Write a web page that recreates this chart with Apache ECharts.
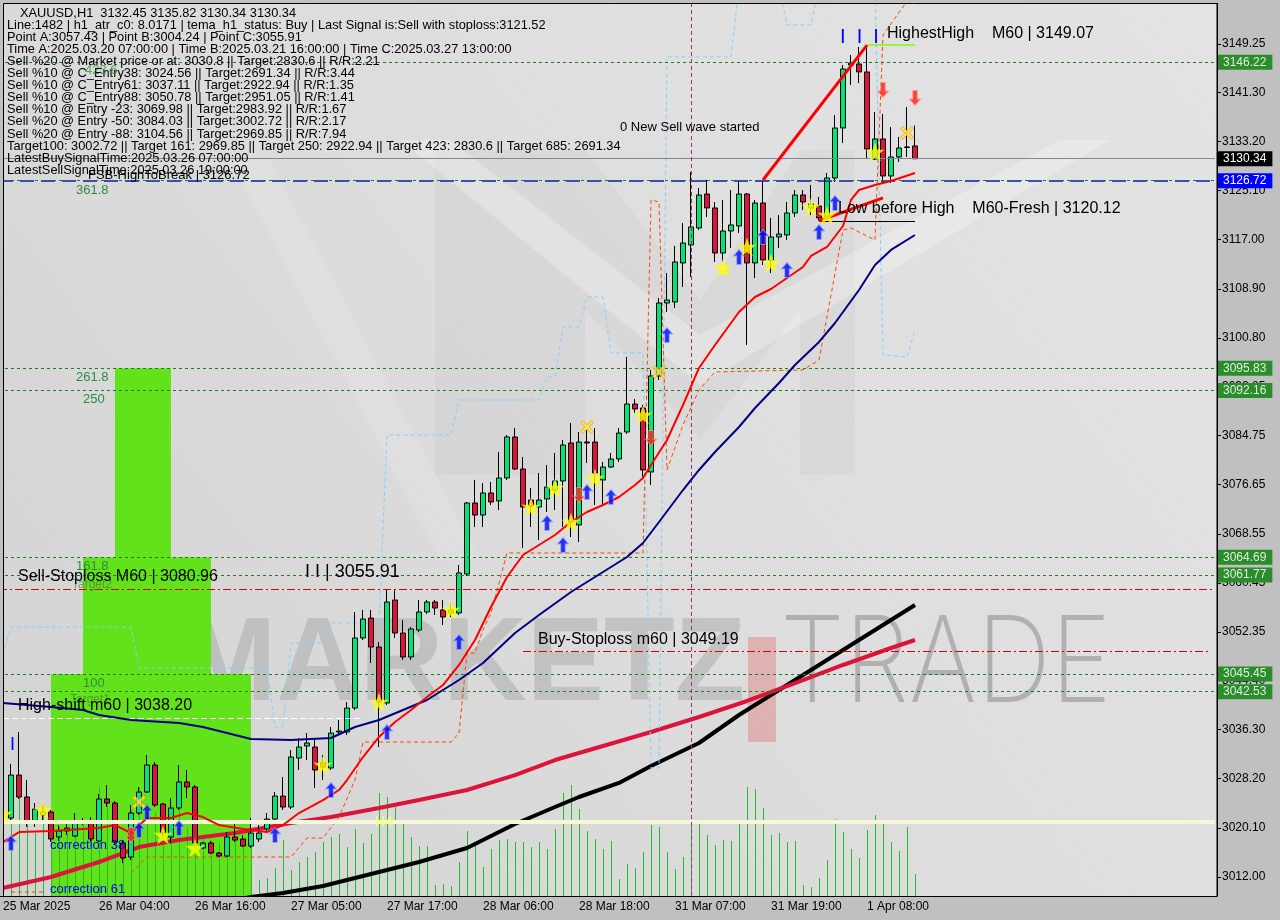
<!DOCTYPE html>
<html><head><meta charset="utf-8">
<script src="https://cdn.jsdelivr.net/npm/echarts@6/dist/echarts.min.js"></script>
<style>html,body{margin:0;padding:0;background:#c0c0c0}#c{width:1280px;height:920px}</style>
</head><body><div id="c"></div>
<script>
// ---------------- DATA ----------------
// bar k = 0..113 (H1 bars). Category index = k + 1 (index 0 is the partly hidden bar at the left edge)
const open  = [3021.72,3028.80,3025.18,3021.06,3022.21,3022.71,3018.59,3019.58,3018.75,3021.06,3021.06,3017.93,3024.85,3024.19,3017.60,3015.29,3022.54,3026.00,3030.45,3024.03,3018.59,3023.37,3027.65,3026.83,3016.78,3017.60,3015.95,3015.46,3018.59,3018.26,3017.10,3018.26,3019.90,3021.55,3025.34,3023.53,3031.60,3033.58,3033.42,3030.78,3029.96,3035.89,3035.89,3039.84,3051.38,3054.67,3049.89,3040.67,3057.64,3052.20,3048.25,3052.70,3055.66,3057.31,3055.99,3055.50,3055.50,3061.92,3073.62,3071.64,3075.27,3073.95,3077.74,3084.50,3079.22,3074.11,3072.96,3074.28,3075.76,3077.25,3083.51,3070.00,3083.67,3083.67,3077.41,3079.55,3080.87,3085.32,3089.93,3089.27,3078.73,3094.55,3106.57,3106.74,3113.17,3116.13,3118.93,3124.53,3122.23,3114.81,3118.44,3119.26,3124.53,3113.17,3123.05,3113.66,3117.45,3117.78,3121.40,3124.37,3122.23,3122.56,3120.58,3127.17,3135.41,3145.79,3145.95,3144.64,3130.30,3133.60,3127.50,3130.63,3132.28,3132.45];
const high  = [3030.62,3035.89,3027.98,3024.19,3023.86,3023.04,3020.56,3020.73,3022.54,3021.72,3021.88,3025.67,3027.16,3024.52,3018.09,3023.86,3026.83,3032.10,3030.95,3024.19,3025.01,3030.45,3029.63,3027.16,3017.76,3017.93,3016.12,3019.41,3020.89,3018.92,3021.72,3020.56,3022.54,3026.00,3028.47,3032.92,3034.90,3035.72,3034.90,3032.10,3036.71,3037.87,3040.83,3055.66,3055.99,3055.99,3050.72,3059.45,3059.29,3054.34,3053.19,3057.64,3057.64,3057.64,3057.64,3057.14,3063.40,3073.79,3077.41,3076.92,3077.08,3082.02,3084.83,3085.98,3081.20,3076.09,3078.56,3079.88,3081.86,3084.00,3086.80,3085.32,3085.65,3085.98,3080.38,3081.86,3085.98,3097.68,3090.76,3089.77,3095.54,3107.40,3111.52,3115.97,3119.76,3128.16,3125.52,3126.84,3123.22,3123.55,3125.19,3126.84,3124.70,3123.55,3126.84,3120.58,3121.07,3123.22,3125.19,3125.19,3126.02,3124.04,3127.99,3137.55,3145.79,3147.44,3148.76,3149.07,3138.05,3137.72,3135.57,3133.93,3138.87,3135.82];
const low   = [3021.06,3024.85,3020.24,3020.24,3021.06,3017.76,3017.93,3018.92,3018.59,3020.56,3017.76,3017.76,3023.53,3017.27,3014.30,3014.80,3022.21,3025.84,3023.53,3018.59,3017.60,3023.04,3025.01,3016.94,3016.61,3015.79,3015.29,3015.29,3017.76,3016.94,3016.78,3017.76,3019.25,3021.06,3023.04,3023.20,3029.63,3031.27,3026.66,3027.98,3029.63,3035.39,3035.39,3039.51,3051.05,3047.26,3033.42,3040.34,3051.38,3047.75,3047.75,3052.37,3055.33,3055.17,3053.52,3054.84,3055.17,3061.59,3069.67,3069.67,3073.29,3072.47,3077.41,3079.06,3066.21,3069.67,3067.52,3072.14,3072.47,3069.67,3068.02,3067.19,3080.21,3073.29,3073.29,3079.39,3080.38,3084.99,3088.45,3077.90,3076.59,3093.89,3105.09,3105.75,3109.21,3110.86,3118.60,3120.74,3113.33,3113.33,3115.64,3118.11,3099.65,3110.69,3112.84,3111.52,3115.64,3116.96,3120.74,3121.90,3121.07,3120.12,3120.25,3126.51,3132.94,3142.49,3142.82,3130.30,3130.14,3126.35,3126.35,3129.81,3130.63,3130.34];
const close = [3028.80,3025.18,3021.06,3023.20,3022.71,3018.26,3019.58,3020.07,3021.06,3020.98,3018.26,3024.85,3024.19,3017.76,3015.13,3022.54,3026.00,3030.45,3023.86,3019.25,3023.37,3027.65,3026.83,3017.60,3017.60,3015.95,3015.46,3018.59,3018.09,3017.10,3019.25,3019.25,3021.55,3025.34,3023.53,3031.77,3033.42,3034.08,3029.63,3030.12,3035.72,3036.05,3039.84,3051.38,3054.51,3049.89,3040.83,3057.31,3052.20,3048.25,3052.86,3055.66,3057.31,3056.32,3054.84,3055.99,3062.09,3073.62,3071.64,3075.27,3073.79,3077.74,3084.50,3079.22,3072.96,3073.13,3074.11,3076.26,3077.25,3083.18,3070.49,3083.67,3083.51,3078.56,3079.55,3080.87,3085.15,3089.93,3089.11,3079.06,3094.55,3106.57,3107.07,3113.33,3116.46,3119.10,3124.37,3122.23,3114.81,3118.44,3119.43,3124.53,3113.17,3123.05,3113.66,3117.45,3117.94,3121.40,3124.37,3123.22,3122.89,3120.58,3127.17,3135.41,3145.13,3146.12,3144.64,3131.95,3133.60,3127.50,3130.63,3132.11,3132.20,3130.34];
const volume = [990,1060,760,630,930,710,690,630,710,760,730,1090,930,760,560,860,1090,930,830,790,660,1060,690,760,590,560,530,490,590,490,590,160,180,280,560,260,340,390,440,540,590,620,490,670,530,620,1030,990,890,750,590,500,500,110,120,100,340,650,510,290,470,560,570,540,540,490,540,470,670,1030,1110,870,650,570,470,550,170,320,280,440,710,690,440,270,390,730,720,610,510,560,550,750,1090,1070,880,610,630,540,550,110,90,180,360,770,640,470,380,660,810,730,540,450,690,220];

// x-axis tick labels (every 12 bars)
const tickBars   = [-1, 11, 23, 35, 47, 59, 71, 83, 95, 107];
const tickLabels = ['25 Mar 2025','26 Mar 04:00','26 Mar 16:00','27 Mar 05:00','27 Mar 17:00','28 Mar 06:00','28 Mar 18:00','31 Mar 07:00','31 Mar 19:00','1 Apr 08:00'];
// y-axis tick labels
const priceTicks = [3012.00,3020.10,3028.20,3036.30,3044.40,3052.35,3060.45,3068.55,3076.65,3084.75,3092.85,3100.80,3108.90,3117.00,3125.10,3133.20,3141.30,3149.25];
const priceMin = 3008.87, priceMax = 3156.0;

// indicator lines [bar, price]
const fastMA = [[-1,3017.76],[1,3019.41],[5,3019.58],[11,3020.07],[13,3020.56],[15,3019.25],[17,3021.72],[20,3021.72],[22,3022.54],[24,3021.88],[26,3020.56],[29,3019.90],[32,3019.41],[34,3020.56],[36,3022.54],[39,3024.68],[41,3026.33],[42,3027.98],[44,3031.77],[46,3035.07],[48,3037.53],[50,3039.51],[52,3041.66],[54,3043.63],[56,3046.93],[58,3051.05],[60,3056.49],[62,3061.43],[64,3065.05],[66,3066.70],[68,3068.35],[70,3070.49],[72,3072.14],[74,3073.29],[76,3074.61],[78,3076.59],[79,3077.74],[80,3079.88],[82,3084.00],[84,3089.77],[86,3095.87],[88,3099.65],[91,3105.09],[93,3107.56],[95,3108.88],[97,3110.69],[99,3112.51],[100,3114.32],[102,3115.80],[104,3119.26],[105,3123.55],[106,3125.19],[108,3126.02],[110,3126.68],[113,3127.99]];
const midMA = [[-1,3040.67],[5,3040.00],[9,3039.51],[11,3038.69],[15,3037.87],[21,3037.37],[24,3036.71],[28,3035.39],[30,3034.74],[35,3034.57],[40,3034.90],[43,3036.71],[46,3037.87],[49,3039.51],[52,3041.16],[56,3044.46],[59,3047.26],[63,3052.20],[66,3055.17],[70,3058.96],[74,3062.25],[77,3064.72],[79,3067.03],[81,3070.49],[84,3075.76],[86,3079.06],[88,3082.02],[91,3086.14],[93,3089.27],[96,3093.39],[98,3096.36],[101,3100.15],[103,3103.28],[106,3108.72],[108,3112.84],[110,3115.31],[113,3117.78]];
const slowMA = [[-1,3010.18],[5,3012.00],[11,3014.47],[16,3016.94],[21,3018.09],[28,3019.25],[35,3020.89],[40,3021.88],[46,3023.37],[51,3024.68],[57,3026.33],[63,3028.80],[68,3031.27],[74,3033.58],[80,3035.89],[86,3038.36],[92,3041.00],[98,3043.96],[104,3046.93],[110,3049.73],[113,3051.05]];
const trendMA = [[28,3008.20],[30,3008.70],[34,3009.36],[39,3010.51],[45,3012.49],[51,3014.47],[57,3016.78],[59,3018.09],[63,3020.73],[68,3023.53],[71,3025.18],[76,3027.49],[80,3030.29],[86,3034.08],[91,3038.69],[96,3042.81],[101,3046.93],[106,3051.05],[110,3054.34],[113,3056.81]];
const blueChannel = [[-1,3048.58],[0,3053.19],[15,3053.19],[16,3046.43],[32,3046.43],[33,3036.71],[34,3036.71],[35,3050.55],[39,3050.55],[40,3053.85],[46,3053.85],[47,3084.83],[55,3084.83],[56,3090.59],[66,3090.59],[67,3094.38],[68,3094.38],[69,3102.62],[71,3102.62],[72,3107.56],[74,3107.56],[75,3098.34],[79,3098.34],[80,3029.96],[81,3029.96],[82,3147.11],[90,3147.11],[91,3158.5],[96,3158.5],[97,3152.38],[100,3152.38],[101,3158.5],[108,3158.5],[109,3098.01],[112,3097.68],[113,3102.13]];
const orangeStopA = [[0,3009.53],[4,3009.53]];
const orangeStopB = [[15,3012.66],[17,3015.29],[35,3015.29],[37,3018.42],[39,3018.42],[41,3021.88],[43,3027.98],[44,3034.24],[55,3034.24],[56,3035.72],[57,3048.90],[58,3048.90],[59,3052.70],[60,3055.50],[62,3065.38],[79,3065.38],[80,3123.55],[81,3123.22],[82,3079.06],[84,3086.47],[86,3092.24],[88,3095.21],[99,3095.54],[101,3097.18],[104,3118.60],[105,3118.93],[108,3116.95],[109,3150.73],[112,3156.3]];
const trendUp   = [[94,3126.84],[107,3149.07]];
const trendLow  = [[101,3120.12],[109,3123.88]];

// horizontal levels
const greenLevels = [3146.22,3095.83,3092.16,3064.69,3061.77,3045.45,3042.53];
const fshLevel = 3126.72, lastPrice = 3130.34, sellStopLine = 3059.45, h4Level = 3021.06;
const buyStop = 3049.19, buyStopFrom = 64;
const highShift = 3038.20, highShiftTo = 44;
const lowBeforeHigh = 3120.12, lowBeforeHighFrom = 101;
const highestHigh = 3149.07, highestHighFrom = 107;
const dayBreakBar = 85;

// fibonacci target boxes
const fibStart = [13, 9, 5];
const fibEnd   = [20, 25, 30];
const fibTop   = [3095.83, 3064.69, 3045.45];

// signal markers [bar, price]
const buyArrows  = [[0,3017.60],[16,3019.74],[17,3022.71],[21,3020.07],[33,3018.92],[40,3026.33],[47,3035.89],[56,3050.72],[67,3070.33],[69,3066.70],[72,3075.43],[75,3074.61],[82,3101.30],[91,3114.15],[94,3117.45],[97,3112.01],[101,3118.27],[103,3123.05]];
const sellArrows = [[15,3018.92],[71,3074.94],[80,3084.33],[109,3141.67],[113,3140.35]];
const stars = [[-1,3022.38],[4,3023.04],[19,3018.92],[23,3016.78],[39,3030.45],[46,3040.83],[55,3055.99],[65,3072.96],[68,3076.09],[70,3070.49],[73,3077.74],[79,3088.12],[89,3112.34],[92,3115.80],[95,3113.17],[100,3122.39],[102,3121.07],[108,3131.45]];
const crosses = [[16,3024.35],[72,3086.14],[81,3095.21],[112,3134.59]];

// ---------------- CHART ----------------
const N = 152;
const X = k => k + 1;
const cats = Array.from({length: N}, (_, i) => String(i));
const labelMap = {};
tickBars.forEach((b, j) => { labelMap[X(b)] = tickLabels[j]; });
const candles = cats.map(() => '-');
const volData = [];
for (let k = 0; k < open.length; k++) {
  candles[X(k)] = [open[k], close[k], low[k], high[k]];
  volData.push([X(k), volume[k]]);
}
const pts = arr => arr.map(d => [X(d[0]), d[1]]);
const fmt = p => Number(p.value).toFixed(2);
const FONT = '"Liberation Sans", Arial, sans-serif';

const markLines = [];
const boxLabel = (bg, fg) => ({show: true, position: 'end', distance: 3, formatter: fmt, backgroundColor: bg, color: fg, padding: [2, 6, 1, 5], fontSize: 12, fontFamily: FONT});
greenLevels.forEach(v => markLines.push({yAxis: v, lineStyle: {color: '#1f7f1f', type: [3, 3], width: 1}, label: boxLabel('#2b8c2b', '#dfeedf')}));
markLines.push({yAxis: fshLevel, lineStyle: {color: '#1010d0', type: [14, 7], width: 1.5}, label: boxLabel('#0000ff', '#ffffff')});
markLines.push({yAxis: fshLevel, lineStyle: {color: '#1f7f1f', type: [3, 3], width: 1}, label: {show: false}});
markLines.push({yAxis: lastPrice, lineStyle: {color: '#7d8797', type: 'solid', width: 1}, label: boxLabel('#000000', '#ffffff')});
markLines.push({yAxis: sellStopLine, lineStyle: {color: '#e00000', type: [8, 3, 2, 3], width: 1}, label: {show: false}});
markLines.push({yAxis: h4Level, lineStyle: {color: '#f6f6d8', type: 'solid', width: 4}, label: {show: false}});
markLines.push([{coord: [X(buyStopFrom), buyStop], lineStyle: {color: '#e00000', type: [8, 3, 2, 3], width: 1}, label: {show: false}}, {coord: [N - 1, buyStop]}]);
markLines.push([{coord: [X(-1), highShift], lineStyle: {color: '#ffffff', type: [6, 3], width: 1}, label: {show: false}}, {coord: [X(highShiftTo), highShift]}]);
markLines.push([{coord: [X(lowBeforeHighFrom), lowBeforeHigh], lineStyle: {color: '#000000', type: 'solid', width: 1}, label: {show: false}}, {coord: [X(113), lowBeforeHigh]}]);
markLines.push([{coord: [X(highestHighFrom), highestHigh], lineStyle: {color: '#7cfc00', type: 'solid', width: 1.5}, label: {show: false}}, {coord: [X(113), highestHigh]}]);
markLines.push({xAxis: X(dayBreakBar), lineStyle: {color: '#8e3a68', type: [4, 3], width: 1}, label: {show: false}});

const headerLines = [
 'XAUUSD,H1  3132.45 3135.82 3130.34 3130.34',
 'Line:1482 | h1_atr_c0: 8.0171 | tema_h1_status: Buy | Last Signal is:Sell with stoploss:3121.52',
 'Point A:3057.43 | Point B:3004.24 | Point C:3055.91',
 'Time A:2025.03.20 07:00:00 | Time B:2025.03.21 16:00:00 | Time C:2025.03.27 13:00:00',
 'Sell %20 @ Market price or at: 3030.8 || Target:2830.6 || R/R:2.21',
 'Sell %10 @ C_Entry38: 3024.56 || Target:2691.34 || R/R:3.44',
 'Sell %10 @ C_Entry61: 3037.11 || Target:2922.94 || R/R:1.35',
 'Sell %10 @ C_Entry88: 3050.78 || Target:2951.05 || R/R:1.41',
 'Sell %10 @ Entry -23: 3069.98 || Target:2983.92 || R/R:1.67',
 'Sell %20 @ Entry -50: 3084.03 || Target:3002.72 || R/R:2.17',
 'Sell %20 @ Entry -88: 3104.56 || Target:2969.85 || R/R:7.94',
 'Target100: 3002.72 || Target 161: 2969.85 || Target 250: 2922.94 || Target 423: 2830.6 || Target 685: 2691.34',
 'LatestBuySignalTime:2025.03.26 07:00:00',
 'LatestSellSignalTime:2025.03.26 19:00:00'
];

function txt(text, x, y, size, color, extra) {
  return {type: 'text', z: 20, style: Object.assign({text: text, x: x, y: y, fill: color || '#000',
    font: (size || 12) + 'px ' + FONT, verticalAlign: 'middle', align: 'left'}, extra || {})};
}
const graphics = [
  {type: 'rect', z: -10, shape: {x: 3, y: 3, width: 1214, height: 893},
   style: {fill: new echarts.graphic.LinearGradient(0, 1, 1, 0, [{offset: 0, color: '#d3d3d3'}, {offset: 0.55, color: '#dedede'}, {offset: 1, color: '#e3e3e3'}])}},
  // watermark logo
  {type: 'polygon', z: -9, shape: {points: [[435,150],[585,150],[700,300],[800,150],[855,150],[855,475],[800,475],[800,310],[700,440],[585,310],[585,475],[435,475]]}, style: {fill: 'rgba(120,120,120,0.05)'}},
  {type: 'polygon', z: -9, shape: {points: [[400,140],[450,140],[700,335],[1060,140],[1110,140],[700,385]]}, style: {fill: 'rgba(255,255,255,0.25)'}},
  {type: 'polygon', z: -9, shape: {points: [[230,160],[270,160],[480,560],[440,560]]}, style: {fill: 'rgba(255,255,255,0.12)'}},
  {type: 'text', z: -8, style: {text: 'MARKETZ', x: 180, y: 726, font: 'bold 118px ' + FONT, fill: 'rgba(130,130,130,0.28)', verticalAlign: 'bottom'}, scaleX: 0.98, originX: 180},
  {type: 'rect', z: -8, shape: {x: 748, y: 637, width: 28, height: 105}, style: {fill: 'rgba(225,70,70,0.28)'}},
  {type: 'text', z: -8, style: {text: 'TRADE', x: 780, y: 726, font: '200 120px Inter, ' + FONT, fill: 'rgba(120,120,120,0.45)', verticalAlign: 'bottom'}, scaleX: 0.86, originX: 780},
];
headerLines.forEach((t, n) => graphics.push(txt(t, n === 0 ? 20 : 7, 13 + 12.1 * n, 12.8)));
graphics.push(
  txt('423.6', 85, 70, 13, 'rgba(40,140,40,0.75)'),
  txt('FSB-HighToBreak | 3126.72', 88, 175, 13),
  txt('361.8', 76, 190, 13, '#2e8b40'),
  txt('0 New Sell wave started', 620, 127, 13),
  txt('HighestHigh    M60 | 3149.07', 887, 34, 16),
  txt('I  I  I', 840, 37, 20, '#0000ff'),
  txt('Low before High    M60-Fresh | 3120.12', 838, 209, 16),
  txt('261.8', 76, 377, 13, '#2e8b40'),
  txt('250', 83, 399, 13, '#2e8b40'),
  txt('161.8', 76, 566, 13, '#2e8b40'),
  txt('Target2', 72, 585, 12, 'rgba(60,110,60,0.6)'),
  txt('I I | 3055.91', 305, 572, 18),
  txt('Sell-Stoploss M60 | 3080.96', 18, 577, 16),
  txt('Buy-Stoploss m60 | 3049.19', 538, 640, 16),
  txt('100', 83, 683, 13, '#2e8b40'),
  txt('Target1', 70, 700, 12, 'rgba(60,110,60,0.6)'),
  txt('High-shift m60 | 3038.20', 18, 706, 16),
  txt('I', 10, 745, 18, '#0000ff'),
  txt('H4', 375, 822, 14, '#ffff70'),
  txt('correction 38', 50, 845, 13, '#0000ff'),
  txt('correction 61', 50, 889, 13, '#0000ff'),
  txt('I I | 3014.21', 70, 906, 20, '#0000ff'),
  // clipping strips and frame
  {type: 'rect', z: 50, shape: {x: 0, y: 897, width: 1280, height: 23}, style: {fill: '#c0c0c0'}},
  {type: 'rect', z: 50, shape: {x: 0, y: 0, width: 3, height: 920}, style: {fill: '#c0c0c0'}},
  {type: 'rect', z: 50, shape: {x: 0, y: 0, width: 1280, height: 3}, style: {fill: '#c0c0c0'}},
  {type: 'rect', z: 55, shape: {x: 3.5, y: 3.5, width: 1213.5, height: 893}, style: {fill: 'none', stroke: '#000', lineWidth: 1}}
);

const ARROW = 'path://M5,0 L10,6 L7,6 L7,14 L3,14 L3,6 L0,6 Z';
const STAR = 'path://M50,0L61.8,35.1L98.9,35.5L69.1,57.6L80.2,93L50,71.6L19.8,93L30.9,57.6L1.1,35.5L38.2,35.1Z';
const CROSS = 'path://M2,0L6,4L10,0L12,2L8,6L12,10L10,12L6,8L2,12L0,10L4,6L0,2Z';

const lineS = (data, color, width, type, z) => ({type: 'line', data: pts(data), showSymbol: false, symbol: 'none',
  lineStyle: {color: color, width: width, type: type || 'solid'}, z: z || 4, silent: true, animation: false});

const option = {
  animation: false,
  backgroundColor: '#c0c0c0',
  textStyle: {fontFamily: FONT},
  grid: {left: -1, width: 1216, top: 3, height: 893, outerBoundsMode: 'none', containLabel: false},
  xAxis: {type: 'category', data: cats, boundaryGap: true, z: 60,
    axisLine: {lineStyle: {color: '#000'}},
    axisTick: {alignWithLabel: true, length: 4, lineStyle: {color: '#000'}, interval: i => labelMap[i] !== undefined},
    axisLabel: {interval: i => labelMap[i] !== undefined, formatter: (v, i) => labelMap[i] || '', align: 'left', color: '#000', fontSize: 12, margin: 5, fontFamily: FONT},
    splitLine: {show: false}},
  yAxis: [
    {type: 'value', position: 'right', offset: 2, min: priceMin, max: priceMax, scale: true,
      axisLine: {show: true, lineStyle: {color: '#000'}},
      axisTick: {show: true, length: 4, lineStyle: {color: '#000'}, customValues: priceTicks},
      axisLabel: {color: '#000', fontSize: 12, margin: 5, customValues: priceTicks, formatter: v => v.toFixed(2), fontFamily: FONT},
      splitLine: {show: false}},
    {type: 'value', min: 0, max: 8930, show: false, splitLine: {show: false}}
  ],
  graphic: graphics,
  series: [
    {type: 'custom', z: 1, silent: true,
      data: fibStart.map((s, j) => [X(s), X(fibEnd[j]), fibTop[j]]),
      encode: {x: [0, 1], y: 2},
      renderItem: (params, api) => {
        const a = api.coord([api.value(0), api.value(2)]);
        const b = api.coord([api.value(1), priceMin]);
        return {type: 'rect', shape: {x: a[0], y: a[1], width: b[0] - a[0], height: b[1] - a[1]}, style: {fill: '#61e21b'}};
      }},
    {type: 'custom', yAxisIndex: 1, z: 2, silent: true, data: volData, encode: {x: 0, y: 1},
      renderItem: (params, api) => {
        const top = api.coord([api.value(0), api.value(1)]);
        const base = api.coord([api.value(0), 0]);
        const x = Math.round(top[0]) + 0.5;
        return {type: 'line', shape: {x1: x, y1: base[1], x2: x, y2: Math.round(top[1])}, style: {stroke: '#22c022', lineWidth: 1}};
      }},
    lineS(trendMA, '#000000', 4, 'solid', 3),
    lineS(slowMA, '#dc143c', 4, 'solid', 3),
    lineS(blueChannel, '#87cefa', 1, [4, 3], 3),
    lineS(orangeStopA, '#ff4500', 1, [4, 3], 3),
    lineS(orangeStopB, '#ff4500', 1, [4, 3], 3),
    {type: 'candlestick', data: candles, barWidth: 6, z: 4, silent: true,
      itemStyle: {color: '#00e676', color0: '#dc143c', borderColor: '#000', borderColor0: '#000', borderWidth: 1},
      markLine: {symbol: ['none', 'none'], silent: true, animation: false, data: markLines, precision: 2}},
    lineS(midMA, '#000080', 2, 'solid', 5),
    lineS(fastMA, '#ff0000', 2, 'solid', 5),
    lineS(trendUp, '#ff0000', 3, 'solid', 5),
    lineS(trendLow, '#ff0000', 3, 'solid', 5),
    {type: 'scatter', data: pts(buyArrows), symbol: ARROW, symbolSize: [11, 15], z: 6, silent: true,
      itemStyle: {color: '#0000ff', borderColor: '#7fa8ff', borderWidth: 1}},
    {type: 'scatter', data: pts(sellArrows), symbol: ARROW, symbolSize: [11, 15], symbolRotate: 180, z: 6, silent: true,
      itemStyle: {color: '#ff1a1a', borderColor: '#ff9a7a', borderWidth: 1}},
    {type: 'scatter', data: pts(stars), symbol: STAR, symbolSize: 19, z: 6, silent: true,
      itemStyle: {color: '#ffff00'}},
    {type: 'scatter', data: pts(crosses), symbol: CROSS, symbolSize: 13, z: 6, silent: true,
      itemStyle: {color: '#ffe040', borderColor: '#f0a020', borderWidth: 1}}
  ]
};
const chart = echarts.init(document.getElementById('c'), null, {renderer: 'canvas'});
chart.setOption(option);
</script></body></html>
